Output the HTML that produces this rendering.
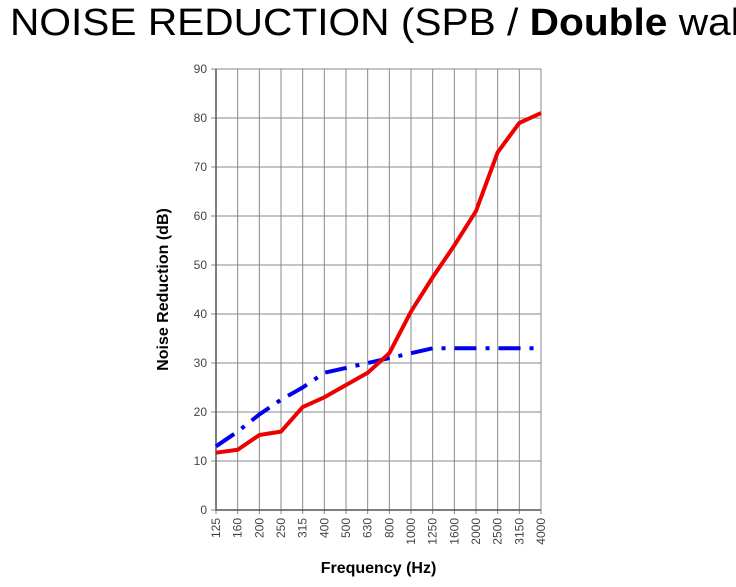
<!DOCTYPE html>
<html><head><meta charset="utf-8"><style>
body{margin:0;width:736px;height:587px;background:#fff;overflow:hidden;font-family:"Liberation Sans",Arial,sans-serif}
#title{position:absolute;left:10px;top:2px;font-size:38px;white-space:nowrap;color:#000;transform:scaleX(1.07);transform-origin:0 0}
svg{position:absolute;left:0;top:0}
</style></head><body>
<div id="title">NOISE REDUCTION (SPB / <b>Double</b> wall</div>
<svg id="chart" width="736" height="587"></svg>
<script>
const categories=["125","160","200","250","315","400","500","630","800","1000","1250","1600","2000","2500","3150","4000"];
const redSeries=[11.7,12.3,15.3,16,21,23,25.5,28,32,40.5,47.5,54,61,73,79,81];
const blueSeries=[13,16,19.5,22.5,25,28,29,30,31,32,33,33,33,33,33,33];
const yTicks=[0,10,20,30,40,50,60,70,80,90];
const L=216,R=541,T=69,B=510,yMax=90;
const svg=document.getElementById('chart');const NS='http://www.w3.org/2000/svg';
function x(i){return L+i*(R-L)/(categories.length-1);}
function y(v){return B-v/yMax*(B-T);}
function mk(t,a,p){const e=document.createElementNS(NS,t);for(const k in a)e.setAttribute(k,a[k]);(p||svg).appendChild(e);return e;}
yTicks.forEach(v=>{
 const g=mk('line',{x1:L-5,x2:R,y1:y(v),y2:y(v),stroke:'#888','stroke-width':1});
 
 
 const t=mk('text',{x:L-9,y:y(v)+4,'text-anchor':'end','font-size':12,fill:'#444'});t.textContent=v;
 
 
});
categories.forEach((c,i)=>{
 const g=mk('line',{x1:x(i),x2:x(i),y1:T,y2:B+4,stroke:'#888','stroke-width':1});
 
 
 const t=mk('text',{transform:`translate(${x(i)+4},${B+8}) rotate(-90)`,'text-anchor':'end','font-size':12,fill:'#444'});t.textContent=c;
 
 
});
const ax=mk('path',{d:`M${L},${T}V${B}H${R}`,stroke:'#555','stroke-width':1.5,fill:'none'});


function pts(s){return s.map((v,i)=>x(i)+','+y(v)).join(' ');}
const b=mk('polyline',{points:pts(blueSeries),fill:'none',stroke:'#0000ee','stroke-width':4,'stroke-dasharray':'22 9 4 9','stroke-linejoin':'round'});


const r=mk('polyline',{points:pts(redSeries),fill:'none',stroke:'#ee0000','stroke-width':4,'stroke-linejoin':'round'});


const yt=mk('text',{transform:`translate(168,${(T+B)/2}) rotate(-90)`,'text-anchor':'middle','font-size':16,'font-weight':'bold',fill:'#000'});yt.textContent='Noise Reduction (dB)';


const xt=mk('text',{x:(L+R)/2,y:573,'text-anchor':'middle','font-size':16,'font-weight':'bold',fill:'#000'});xt.textContent='Frequency (Hz)';


</script>
</body></html>
